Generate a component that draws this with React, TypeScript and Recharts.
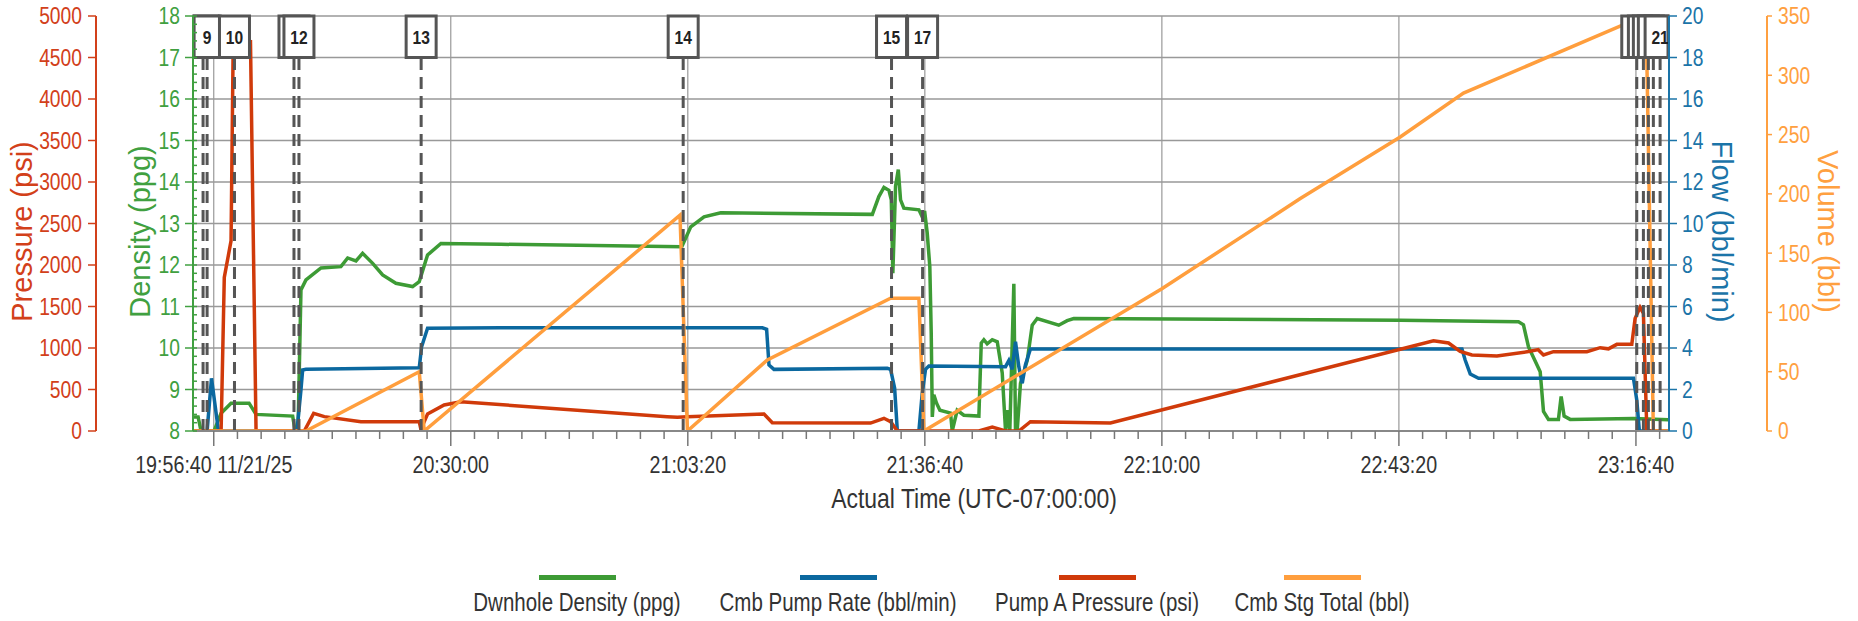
import React from 'react';
import { LineChart, Line, XAxis, YAxis, CartesianGrid, ReferenceLine } from 'recharts';

// ---- layout ----
const W = 1858;
const H = 621;
const TOP = 16;
const PLOT_BOTTOM = 431;
const X_AXIS_H = 60;
const AXIS_W = { pressure: 96, density: 97, flow: 98, volume: 91 };
const PLOT_LEFT = AXIS_W.pressure + AXIS_W.density;
const PLOT_RIGHT = W - AXIS_W.flow - AXIS_W.volume;

// the reference text is a narrow sans; Liberation Sans squeezed horizontally stands in for it
const SANS = "'Liberation Sans', Arial, sans-serif";
const SQUEEZE = 0.82;

const GREEN = '#3d9b35';
const BLUE = '#0b689f';
const RED = '#d03a0a';
const ORANGE = '#ff9e3d';
const PRESSURE_C = '#d2401a';
const DENSITY_C = '#40a040';
const FLOW_C = '#1b74a8';
const VOLUME_C = '#ffa040';

const toSec = (hms: string) => {
  const [h, m, s] = hms.split(':').map(Number);
  return h * 3600 + m * 60 + s;
};

// ---- axes ----
const X_START = '19:53:45';
const X_END = '23:21:19';
const X_TICKS = ['19:56:40', '20:30:00', '21:03:20', '21:36:40', '22:10:00', '22:43:20', '23:16:40'];
const X_TICK_LABELS = ['19:56:40 11/21/25', '20:30:00', '21:03:20', '21:36:40', '22:10:00', '22:43:20', '23:16:40'];
const MINOR_STEP = 200;

const PRESSURE_TICKS = [0, 500, 1000, 1500, 2000, 2500, 3000, 3500, 4000, 4500, 5000];
const DENSITY_TICKS = [8, 9, 10, 11, 12, 13, 14, 15, 16, 17, 18];
const FLOW_TICKS = [0, 2, 4, 6, 8, 10, 12, 14, 16, 18, 20];
const VOLUME_TICKS = [0, 50, 100, 150, 200, 250, 300, 350];

// ---- series (time, value) ----
const densityRows: [string, number][] = [
  ['19:53:45', 8.34], ['19:54:28', 8.34], ['19:54:53', 8.0], ['19:56:43', 8.0], ['19:57:42', 8.43],
  ['19:59:06', 8.67], ['20:01:38', 8.67], ['20:02:37', 8.4], ['20:07:46', 8.36], ['20:08:06', 8.0],
  ['20:08:31', 8.0], ['20:08:56', 11.4], ['20:09:38', 11.64], ['20:11:45', 11.93], ['20:14:33', 11.96],
  ['20:15:30', 12.17], ['20:16:40', 12.1], ['20:17:36', 12.28], ['20:19:01', 12.04], ['20:20:25', 11.76],
  ['20:22:17', 11.56], ['20:24:38', 11.48], ['20:25:34', 11.6], ['20:26:44', 12.24], ['20:28:37', 12.52],
  ['20:37:02', 12.5], ['21:02:29', 12.44], ['21:02:48', 12.56], ['21:03:45', 12.92], ['21:05:37', 13.16],
  ['21:07:58', 13.26], ['21:29:17', 13.22], ['21:30:12', 13.65], ['21:30:55', 13.87], ['21:31:37', 13.8],
  ['21:31:57', 13.57], ['21:32:10', 11.8], ['21:32:33', 13.9], ['21:32:56', 14.3], ['21:33:15', 13.57],
  ['21:33:43', 13.37], ['21:35:50', 13.33], ['21:36:18', 13.16], ['21:36:38', 13.3], ['21:37:00', 12.77],
  ['21:37:22', 11.96], ['21:37:34', 10.35], ['21:37:43', 8.34], ['21:37:56', 8.87], ['21:38:19', 8.67],
  ['21:38:47', 8.5], ['21:40:17', 8.43], ['21:40:31', 8.0], ['21:41:13', 8.5], ['21:42:09', 8.38],
  ['21:44:16', 8.36], ['21:44:36', 10.12], ['21:44:58', 10.2], ['21:45:26', 10.1], ['21:46:09', 10.2],
  ['21:46:51', 10.15], ['21:47:33', 9.4], ['21:48:01', 8.0], ['21:48:15', 8.5], ['21:48:37', 8.0],
  ['21:49:11', 11.55], ['21:49:25', 8.0], ['21:49:39', 8.0], ['21:50:07', 9.15], ['21:51:04', 9.7],
  ['21:51:46', 10.55], ['21:52:28', 10.71], ['21:55:30', 10.55], ['21:56:41', 10.66], ['21:57:37', 10.71],
  ['22:43:31', 10.67], ['23:00:09', 10.63], ['23:00:51', 10.56], ['23:01:33', 10.03], ['23:03:12', 9.43],
  ['23:03:40', 8.47], ['23:04:22', 8.28], ['23:05:46', 8.28], ['23:06:09', 8.83], ['23:06:34', 8.36],
  ['23:07:25', 8.28], ['23:16:19', 8.3], ['23:21:14', 8.27],
];

const pumpRateRows: [string, number][] = [
  ['19:53:45', 0], ['19:55:44', 0], ['19:56:21', 2.54], ['19:57:20', 0], ['20:08:22', 0],
  ['20:08:56', 1.98], ['20:09:10', 2.94], ['20:09:38', 2.97], ['20:25:34', 3.05], ['20:25:54', 4.06],
  ['20:26:44', 4.95], ['20:37:02', 4.98], ['21:13:49', 4.97], ['21:14:25', 4.9], ['21:14:45', 3.18],
  ['21:15:27', 2.97], ['21:31:23', 3.02], ['21:31:51', 2.97], ['21:32:25', 2.07], ['21:32:48', 0],
  ['21:35:50', 0], ['21:36:18', 1.83], ['21:36:46', 2.97], ['21:37:14', 3.13], ['21:48:01', 3.1],
  ['21:48:29', 3.4], ['21:48:57', 2.97], ['21:49:25', 4.3], ['21:49:53', 3.1], ['21:50:22', 2.3],
  ['21:50:49', 3.2], ['21:51:31', 3.95], ['22:52:12', 3.95], ['22:52:39', 3.42], ['22:53:22', 2.75],
  ['22:54:32', 2.54], ['23:16:19', 2.54], ['23:16:47', 1.5], ['23:17:09', 0], ['23:21:11', 0],
];

const pressureRows: [string, number][] = [
  ['19:53:45', 0], ['19:57:42', 0], ['19:58:09', 1850], ['19:59:06', 2290], ['19:59:23', 4520],
  ['19:59:40', 4700], ['20:01:50', 4690], ['20:02:37', 0], ['20:09:24', 0], ['20:10:43', 213],
  ['20:12:13', 173], ['20:17:22', 112], ['20:25:34', 112], ['20:25:48', 20], ['20:26:44', 205],
  ['20:29:04', 313], ['20:31:25', 353], ['21:00:26', 172], ['21:01:52', 165], ['21:03:17', 172],
  ['21:14:03', 205], ['21:15:13', 100], ['21:29:02', 96], ['21:30:55', 153], ['21:31:51', 112],
  ['21:32:48', 0], ['21:44:16', 0], ['21:46:09', 48], ['21:48:01', 0], ['21:49:53', 0],
  ['21:51:31', 112], ['22:02:46', 96], ['22:48:12', 1088], ['22:50:19', 1060], ['22:51:57', 960],
  ['22:53:36', 916], ['22:57:07', 904], ['23:01:47', 960], ['23:02:55', 980], ['23:03:40', 916],
  ['23:05:04', 956], ['23:09:46', 956], ['23:11:38', 1004], ['23:12:48', 990], ['23:13:59', 1044],
  ['23:16:05', 1044], ['23:16:33', 1357], ['23:17:15', 1490], ['23:17:43', 1418], ['23:18:12', 0],
  ['23:21:11', 0],
];

const stageTotalRows: [string, number][] = [
  ['19:53:45', 0], ['20:09:38', 0], ['20:25:34', 50], ['20:26:16', 0], ['21:02:14', 182],
  ['21:03:17', 0], ['21:14:31', 60], ['21:31:51', 112], ['21:35:50', 112], ['21:36:32', 0],
  ['22:10:00', 120], ['22:29:28', 196], ['22:43:31', 248], ['22:52:25', 285], ['23:14:41', 342],
  ['23:18:06', 348], ['23:19:07', 0], ['23:21:11', 0],
];

// ---- event markers (labels of boxes hidden under the next box are left blank) ----
const EVENT_TIMES = [
  '19:55:10', '19:55:44', '19:59:35', '20:07:57', '20:08:39', '20:25:50', '21:02:41',
  '21:31:59', '21:36:21', '23:16:47', '23:17:43', '23:18:25', '23:19:07', '23:20:04',
];
const EVENT_LABELS = ['', '9', '10', '', '12', '13', '14', '15', '17', '', '', '', '', '21'];

const LEGEND = [
  { name: 'Dwnhole Density (ppg)', color: GREEN },
  { name: 'Cmb Pump Rate (bbl/min)', color: BLUE },
  { name: 'Pump A Pressure (psi)', color: RED },
  { name: 'Cmb Stg Total (bbl)', color: ORANGE },
];
const LEGEND_CENTERS = [577, 838, 1097, 1322];

const toPoints = (rows: [string, number][]) => rows.map(([t, v]) => ({ t: toSec(t), v }));

const xMin = toSec(X_START);
const xMax = toSec(X_END);
const major0 = toSec(X_TICKS[0]);
const allXTicks: number[] = [];
for (let t = major0 - MINOR_STEP * Math.floor((major0 - xMin) / MINOR_STEP); t <= xMax; t += MINOR_STEP) {
  allXTicks.push(t);
}
const densityMinor: number[] = [];
for (let i = 0; i <= (DENSITY_TICKS.length - 1) * 5; i++) densityMinor.push(DENSITY_TICKS[0] + i * 0.2);

function NarrowText(props: any) {
  const { x, y, children, anchor = 'middle', size, fill, weight = 400, dy = 0 } = props;
  return (
    <g transform={`translate(${x} ${y}) scale(${SQUEEZE} 1)`}>
      <text x={0} y={0} dy={dy} textAnchor={anchor} fontSize={size} fontWeight={weight} fontFamily={SANS} fill={fill}>
        {children}
      </text>
    </g>
  );
}

function TimeTick(props: any) {
  const { x, payload } = props;
  const idx = X_TICKS.findIndex((s) => toSec(s) === payload.value);
  const major = idx >= 0;
  return (
    <g>
      <line x1={x} x2={x} y1={PLOT_BOTTOM} y2={PLOT_BOTTOM + (major ? 15 : 8)} stroke="#777" strokeWidth={1.5} />
      {major && (
        <NarrowText x={x} y={PLOT_BOTTOM + 42} size={24} fill="#333">
          {X_TICK_LABELS[idx]}
        </NarrowText>
      )}
    </g>
  );
}

function DensityTick(props: any) {
  const { y, payload } = props;
  const v = payload.value;
  const major = Math.abs(v - Math.round(v)) < 1e-6;
  return (
    <g>
      <line x1={PLOT_LEFT - (major ? 8 : 0)} x2={PLOT_LEFT + 4} y1={y} y2={y} stroke={DENSITY_C} strokeWidth={1.5} />
      {major && (
        <NarrowText x={PLOT_LEFT - 13} y={y} dy="0.36em" anchor="end" size={23.5} fill={DENSITY_C}>
          {Math.round(v)}
        </NarrowText>
      )}
    </g>
  );
}

function ValueTick(props: any) {
  const { x, y, payload, textAnchor, color } = props;
  return (
    <NarrowText x={x} y={y} dy="0.36em" anchor={textAnchor} size={23.5} fill={color}>
      {payload.value}
    </NarrowText>
  );
}

function AxisTitle(props: any) {
  const { viewBox, text, dx, rotate, color } = props;
  if (!viewBox) return null;
  const cx = viewBox.x + dx;
  const cy = viewBox.y + viewBox.height / 2 + 8;
  return (
    <text
      x={cx}
      y={cy}
      transform={`rotate(${rotate} ${cx} ${cy})`}
      textAnchor="middle"
      dominantBaseline="central"
      fontSize={29}
      fontFamily={SANS}
      fill={color}
    >
      {text}
    </text>
  );
}

function XTitle(props: any) {
  const { viewBox } = props;
  if (!viewBox) return null;
  return (
    <NarrowText x={viewBox.x + viewBox.width / 2 + 43} y={viewBox.y + 77} size={28} fill="#333">
      Actual Time (UTC-07:00:00)
    </NarrowText>
  );
}

function EventBox(props: any) {
  const { viewBox, text } = props;
  if (!viewBox) return null;
  const w = text.length === 1 ? 26 : 30;
  const h = viewBox.height / 10;
  const left = Math.max(PLOT_LEFT + 1, viewBox.x - w / 2);
  const right = Math.min(PLOT_RIGHT - 1, viewBox.x + w / 2);
  return (
    <g>
      <rect x={left} y={viewBox.y} width={right - left} height={h} fill="#fff" stroke="#555" strokeWidth={3} />
      {text && (
        <NarrowText x={viewBox.x} y={viewBox.y + h / 2} dy="0.36em" size={19} weight={700} fill="#222">
          {text}
        </NarrowText>
      )}
    </g>
  );
}

export default function App() {
  return (
    <div style={{ position: 'relative', width: W, height: H, background: '#fff' }}>
      <style>{'body{margin:0}'}</style>
      <LineChart width={W} height={H} margin={{ top: TOP, right: 0, bottom: H - PLOT_BOTTOM - X_AXIS_H, left: 0 }}>
        <CartesianGrid xAxisId="t" yAxisId="f" vertical={false} stroke="#999" strokeWidth={1.5} />
        <XAxis
          xAxisId="t"
          type="number"
          dataKey="t"
          domain={[xMin, xMax]}
          allowDataOverflow
          ticks={allXTicks}
          interval={0}
          tick={<TimeTick />}
          tickLine={false}
          axisLine={{ stroke: '#888', strokeWidth: 2 }}
          height={X_AXIS_H}
          label={<XTitle />}
        />
        <YAxis
          yAxisId="d"
          orientation="left"
          width={AXIS_W.density}
          domain={[8, 18]}
          allowDataOverflow
          ticks={densityMinor}
          interval={0}
          tick={<DensityTick />}
          tickLine={false}
          axisLine={{ stroke: DENSITY_C, strokeWidth: 2 }}
          label={<AxisTitle text="Density (ppg)" dx={44} rotate={-90} color={DENSITY_C} />}
        />
        <YAxis
          yAxisId="p"
          orientation="left"
          width={AXIS_W.pressure}
          domain={[0, 5000]}
          allowDataOverflow
          ticks={PRESSURE_TICKS}
          interval={0}
          tickSize={8}
          tickMargin={6}
          tick={<ValueTick color={PRESSURE_C} />}
          tickLine={{ stroke: PRESSURE_C, strokeWidth: 1.5 }}
          axisLine={{ stroke: PRESSURE_C, strokeWidth: 2 }}
          label={<AxisTitle text="Pressure (psi)" dx={22} rotate={-90} color={PRESSURE_C} />}
        />
        <YAxis
          yAxisId="f"
          orientation="right"
          width={AXIS_W.flow}
          domain={[0, 20]}
          allowDataOverflow
          ticks={FLOW_TICKS}
          interval={0}
          tickSize={8}
          tickMargin={5}
          tick={<ValueTick color={FLOW_C} />}
          tickLine={{ stroke: FLOW_C, strokeWidth: 1.5 }}
          axisLine={{ stroke: FLOW_C, strokeWidth: 2 }}
          label={<AxisTitle text="Flow (bbl/min)" dx={53} rotate={90} color={FLOW_C} />}
        />
        <YAxis
          yAxisId="v"
          orientation="right"
          width={AXIS_W.volume}
          domain={[0, 350]}
          allowDataOverflow
          ticks={VOLUME_TICKS}
          interval={0}
          tickSize={5}
          tickMargin={6}
          tick={<ValueTick color={VOLUME_C} />}
          tickLine={{ stroke: VOLUME_C, strokeWidth: 1.5 }}
          axisLine={{ stroke: VOLUME_C, strokeWidth: 2 }}
          label={<AxisTitle text="Volume (bbl)" dx={61} rotate={90} color={VOLUME_C} />}
        />
        {X_TICKS.map((s) => (
          <ReferenceLine key={s} x={toSec(s)} xAxisId="t" yAxisId="d" stroke="#999" strokeWidth={1.2} />
        ))}
        <Line xAxisId="t" yAxisId="d" data={toPoints(densityRows)} dataKey="v" type="linear" stroke={GREEN} strokeWidth={3.5} dot={false} isAnimationActive={false} />
        <Line xAxisId="t" yAxisId="f" data={toPoints(pumpRateRows)} dataKey="v" type="linear" stroke={BLUE} strokeWidth={3.5} dot={false} isAnimationActive={false} />
        <Line xAxisId="t" yAxisId="p" data={toPoints(pressureRows)} dataKey="v" type="linear" stroke={RED} strokeWidth={3.5} dot={false} isAnimationActive={false} />
        <Line xAxisId="t" yAxisId="v" data={toPoints(stageTotalRows)} dataKey="v" type="linear" stroke={ORANGE} strokeWidth={3.5} dot={false} isAnimationActive={false} />
        {EVENT_TIMES.map((s, i) => (
          <ReferenceLine
            key={`ev-${i}`}
            x={toSec(s)}
            xAxisId="t"
            yAxisId="d"
            stroke="#555"
            strokeWidth={3}
            strokeDasharray="12 7"
            label={<EventBox text={EVENT_LABELS[i]} />}
          />
        ))}
      </LineChart>
      <svg width={W} height={70} style={{ position: 'absolute', left: 0, top: 560 }}>
        {LEGEND.map((l, i) => (
          <g key={l.name}>
            <rect x={LEGEND_CENTERS[i] - 38} y={15} width={77} height={5} fill={l.color} />
            <NarrowText x={LEGEND_CENTERS[i]} y={51} size={25} fill="#333">
              {l.name}
            </NarrowText>
          </g>
        ))}
      </svg>
    </div>
  );
}
